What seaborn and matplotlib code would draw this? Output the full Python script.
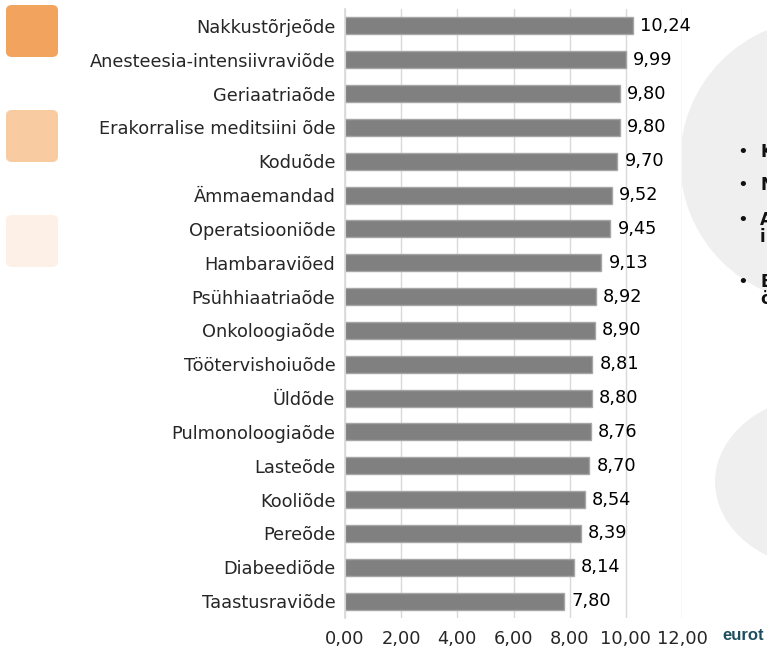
import matplotlib
matplotlib.use("Agg")
import matplotlib.pyplot as plt
import seaborn as sns
import pandas as pd
from matplotlib.patches import FancyBboxPatch, Ellipse

categories = ["Nakkustõrjeõde", "Anesteesia-intensiivraviõde", "Geriaatriaõde",
              "Erakorralise meditsiini õde", "Koduõde", "Ämmaemandad", "Operatsiooniõde",
              "Hambaraviõed", "Psühhiaatriaõde", "Onkoloogiaõde", "Töötervishoiuõde",
              "Üldõde", "Pulmonoloogiaõde", "Lasteõde", "Kooliõde", "Pereõde",
              "Diabeediõde", "Taastusraviõde"]
values = [10.24, 9.99, 9.80, 9.80, 9.70, 9.52, 9.45, 9.13, 8.92, 8.90, 8.81,
          8.80, 8.76, 8.70, 8.54, 8.39, 8.14, 7.80]
xticks = [0, 2, 4, 6, 8, 10, 12]

df = pd.DataFrame({"cat": categories, "val": values})

sns.set_theme(style="white")
plt.rcParams['font.family'] = ['DejaVu Sans']

FS = 12.8

fig = plt.figure(figsize=(7.67, 6.5), dpi=100)
ax = fig.add_axes([345/767, 1-618/650, (682-345)/767, (618-9)/650])

sns.barplot(data=df, x="val", y="cat", orient="h", color="#808080", width=0.5,
            edgecolor="#a6a6a6", linewidth=1, saturation=1, ax=ax)

ax.set_xlim(0, 12)
ax.set_xticks(xticks)
ax.set_xticklabels([f"{t:.2f}".replace(".", ",") for t in xticks], fontsize=FS)
ax.tick_params(axis="y", labelsize=FS, length=0, pad=7)
ax.tick_params(axis="x", length=0, pad=9)
ax.set_xlabel("")
ax.set_ylabel("")
ax.grid(axis="x", color="#d9d9d9", linewidth=1)
ax.set_axisbelow(True)
for s in ["top", "right", "bottom"]:
    ax.spines[s].set_visible(False)
ax.spines["left"].set_color("#d9d9d9")

for i, v in enumerate(values):
    ax.text(v + 0.25, i, f"{v:.2f}".replace(".", ","), va="center", ha="left", fontsize=FS, color="black")

# decorations
for (y0, col) in [(5, "#f2a35e"), (110, "#f8cba0"), (215, "#fdf1e7")]:
    p = FancyBboxPatch((6/767, 1-(y0+52)/650), 52/767, 52/650,
                       boxstyle="round,pad=0,rounding_size=0.008", transform=fig.transFigure,
                       facecolor=col, edgecolor="none")
    fig.patches.append(p)

e1 = Ellipse((822/767, 1-161/650), 2*142/767, 2*142/650, transform=fig.transFigure,
             facecolor="#efefef", edgecolor="none", zorder=-1)
e2 = Ellipse((830/767, 1-482/650), 2*115/767, 2*88/650, transform=fig.transFigure,
             facecolor="#efefef", edgecolor="none", zorder=-1)
fig.patches.append(e1)
fig.patches.append(e2)

bullets = [(152, "K", None), (185, "N", None), (220, "A", "i"), (282, "E", "ö")]
for y, t1, t2 in bullets:
    fig.text(737/767, 1-y/650, "•", fontsize=13, va="center", ha="left", color="#111111")
    fig.text(760/767, 1-y/650, t1, fontsize=12, fontweight="bold", va="center", ha="left", color="#111111")
    if t2:
        fig.text(760/767, 1-(y+17)/650, t2, fontsize=12, fontweight="bold", va="center", ha="left", color="#111111")

fig.text(722/767, 1-636/650, "eurot", fontsize=12, fontweight="bold", va="center", ha="left",
         color="#1f4e5f", family="Liberation Sans")

fig.savefig("out.png", dpi=100)
